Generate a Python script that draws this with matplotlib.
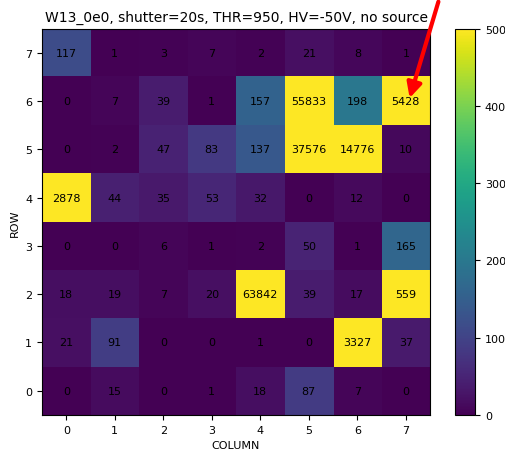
import numpy as np
import matplotlib
matplotlib.use('Agg')
import matplotlib.pyplot as plt

# counts per pixel, row 0 first (bottom)
row0 = [0, 15, 0, 1, 18, 87, 7, 0]
row1 = [21, 91, 0, 0, 1, 0, 3327, 37]
row2 = [18, 19, 7, 20, 63842, 39, 17, 559]
row3 = [0, 0, 6, 1, 2, 50, 1, 165]
row4 = [2878, 44, 35, 53, 32, 0, 12, 0]
row5 = [0, 2, 47, 83, 137, 37576, 14776, 10]
row6 = [0, 7, 39, 1, 157, 55833, 198, 5428]
row7 = [117, 1, 3, 7, 2, 21, 8, 1]
counts = np.array([row0, row1, row2, row3, row4, row5, row6, row7])

fig = plt.figure(figsize=(5.06, 4.52), dpi=100)
ax = fig.add_axes([0.083, 0.080, 0.767, 0.854])
cax = fig.add_axes([0.899, 0.080, 0.040, 0.854])

im = ax.imshow(counts, origin='lower', cmap='viridis', vmin=0, vmax=500, aspect='auto')
for r in range(counts.shape[0]):
    for c in range(counts.shape[1]):
        ax.text(c, r, str(counts[r, c]), ha='center', va='center', color='k', fontsize=8)

ax.set_xticks(range(8))
ax.set_yticks(range(8))
ax.set_xlabel('COLUMN', fontsize=8)
ax.set_ylabel('ROW', fontsize=8)
ax.tick_params(labelsize=8)
ax.set_title('W13_0e0, shutter=20s, THR=950, HV=-50V, no source', fontsize=10)

cb = fig.colorbar(im, cax=cax)
cb.set_ticks([0, 100, 200, 300, 400, 500])
cb.ax.tick_params(labelsize=8)

# red arrow drawn over the screenshot
fig.add_artist(matplotlib.patches.FancyArrowPatch(
    (0.868, 1.0), (0.808, 0.775), transform=fig.transFigure,
    arrowstyle='-|>', mutation_scale=22, color='red', lw=3))

fig.savefig('out.png', dpi=100)
